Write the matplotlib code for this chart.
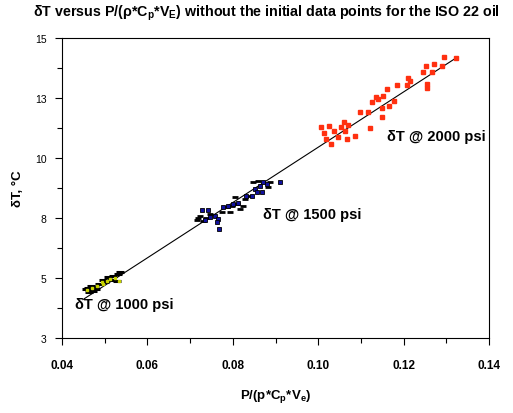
import matplotlib
matplotlib.use("Agg")
import matplotlib.pyplot as plt
from matplotlib.ticker import FixedLocator, FixedFormatter, MultipleLocator

plt.rcParams['font.family'] = ['Liberation Sans', 'DejaVu Sans']
plt.rcParams['mathtext.fontset'] = 'custom'
plt.rcParams['mathtext.rm'] = 'Liberation Sans'
plt.rcParams['mathtext.bf'] = 'Liberation Sans:bold'
plt.rcParams['mathtext.it'] = 'Liberation Sans:italic'

# ---- data ----
# 1000 psi cluster
x1000_sq = [0.0459, 0.0470, 0.0482, 0.0494, 0.0505, 0.0512, 0.0524, 0.0533, 0.0496]
y1000_sq = [4.50, 4.58, 4.67, 4.83, 4.88, 4.96, 5.00, 4.88, 4.75]
x1000_ds = [0.0456, 0.0463, 0.0473, 0.0477, 0.0487, 0.0501, 0.0508, 0.0519, 0.0531, 0.0536, 0.0529, 0.0468,
            0.0460, 0.0480, 0.0497, 0.0514]
y1000_ds = [4.54, 4.42, 4.46, 4.63, 4.75, 4.83, 5.04, 5.08, 5.17, 5.25, 4.88, 4.67,
            4.60, 4.55, 4.92, 4.90]

# 1500 psi cluster
x1500_sq = [0.0735, 0.0747, 0.0758, 0.0765, 0.0768, 0.0763, 0.0728, 0.0742, 0.0777, 0.0789,
            0.0800, 0.0812, 0.0845, 0.0852, 0.0864, 0.0871, 0.0880, 0.0868, 0.0857, 0.0911, 0.0831]
y1500_sq = [7.42, 7.54, 7.58, 7.46, 7.04, 7.33, 7.83, 7.83, 7.96, 8.00,
            8.08, 8.13, 8.42, 8.71, 8.83, 9.00, 8.92, 8.58, 8.58, 9.00, 8.42]
x1500_ds = [0.0716, 0.0723, 0.0730, 0.0737, 0.0718, 0.0747, 0.0775, 0.0786, 0.0798, 0.0810,
            0.0817, 0.0829, 0.0836, 0.0847, 0.0859, 0.0882, 0.0887, 0.0805, 0.0824, 0.0793]
y1500_ds = [7.42, 7.58, 7.38, 7.50, 7.50, 7.67, 7.75, 7.96, 8.00, 8.08,
            7.88, 8.29, 8.42, 9.00, 9.04, 8.79, 9.00, 8.38, 8.00, 7.75]

# 2000 psi cluster
x2000 = [0.1323, 0.1295, 0.1271, 0.1290, 0.1252, 0.1245, 0.1267, 0.1255, 0.1255, 0.1210,
         0.1215, 0.1208, 0.1185, 0.1161, 0.1152, 0.1135, 0.1140, 0.1126, 0.1178, 0.1166,
         0.1149, 0.1149, 0.1117, 0.1098, 0.1121, 0.1086, 0.1060, 0.1070, 0.1063, 0.1067,
         0.1053, 0.1007, 0.1014, 0.1018, 0.1030, 0.1037, 0.1046, 0.1025]
y2000 = [14.17, 14.21, 13.92, 13.83, 13.83, 13.58, 13.58, 13.08, 12.92, 13.33,
         13.21, 13.04, 13.04, 12.88, 12.58, 12.54, 12.46, 12.33, 12.38, 12.17,
         12.08, 11.71, 11.92, 11.92, 11.25, 10.92, 11.50, 11.38, 11.13, 10.79,
         11.29, 11.29, 11.04, 10.79, 10.58, 11.13, 10.88, 11.33]

# fitted line end points
fit_x = [0.0449, 0.1323]
fit_y = [4.10, 14.17]

# labels
cluster_labels = ["δT @ 1000 psi", "δT @ 1500 psi", "δT @ 2000 psi"]
label_x = [0.0430, 0.0871, 0.1161]
label_y = [3.92, 7.67, 10.92]

x_ticks = [0.04, 0.06, 0.08, 0.10, 0.12, 0.14]
x_ticklabels = ["0.04", "0.06", "0.08", "0.10", "0.12", "0.14"]
y_ticks = [2.5, 5.0, 7.5, 10.0, 12.5, 15.0]
y_ticklabels = ["3", "5", "8", "10", "13", "15"]

# ---- figure ----
fig = plt.figure(figsize=(5.13, 4.14), dpi=100)
ax = fig.add_axes([0.1209, 0.1812, 0.8323, 0.7246])

ax.plot(fit_x, fit_y, color='black', lw=0.8, zorder=2)

ax.plot(x1000_ds, y1000_ds, ls='none', marker='_', ms=5.5, mew=2.2, color='black', zorder=3)
ax.plot(x1000_sq, y1000_sq, ls='none', marker='s', ms=1.8, mfc='#c8d400', mec='#c8d400', zorder=4)

ax.plot(x1500_ds, y1500_ds, ls='none', marker='_', ms=5, mew=2, color='black', zorder=3)
ax.plot(x1500_sq, y1500_sq, ls='none', marker='s', ms=3, mfc='#1010a0', mec='black', mew=0.6, zorder=4)

ax.plot(x2000, y2000, ls='none', marker='s', ms=3.3, mfc='#ff3010', mec='#ff3010', zorder=4)

for t, lx, ly in zip(cluster_labels, label_x, label_y):
    ax.text(lx, ly, t, fontsize=10.5, fontweight='bold', ha='left', va='center')

ax.set_xlim(0.04, 0.14)
ax.set_ylim(2.5, 15.0)
ax.xaxis.set_major_locator(FixedLocator(x_ticks))
ax.xaxis.set_major_formatter(FixedFormatter(x_ticklabels))
ax.xaxis.set_minor_locator(MultipleLocator(0.01))
ax.yaxis.set_major_locator(FixedLocator(y_ticks))
ax.yaxis.set_major_formatter(FixedFormatter(y_ticklabels))
ax.yaxis.set_minor_locator(MultipleLocator(1.25))

ax.tick_params(which='both', direction='out', top=False, right=False, width=0.8)
ax.tick_params(which='major', length=5)
ax.tick_params(which='minor', length=3.5)
ax.tick_params(axis='x', labelsize=8.5, pad=10)
ax.tick_params(axis='y', labelsize=7.5, pad=6)
for lbl in ax.get_xticklabels():
    lbl.set_fontweight('bold')
for s in ax.spines.values():
    s.set_linewidth(0.8)

ax.set_xlabel(r"P/(p*C$_\mathbf{p}$*V$_\mathbf{e}$)", fontsize=9.5, fontweight='bold', labelpad=12)
ax.set_ylabel("δT, °C", fontsize=9.5, fontweight='bold', labelpad=8)

fig.text(0.52, 0.968, r"δT versus P/(ρ*C$_\mathbf{p}$*V$_\mathbf{E}$) without the initial data points for the ISO 22 oil",
         fontsize=10.3, fontweight='bold', ha='center', va='center')

fig.savefig("out.png", dpi=100)
